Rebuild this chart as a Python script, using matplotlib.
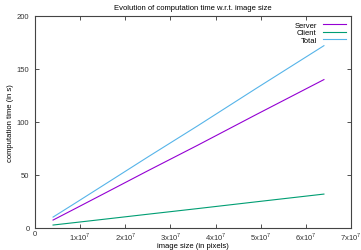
import matplotlib
matplotlib.use('Agg')
import matplotlib.pyplot as plt
from matplotlib.ticker import FuncFormatter

# data
sizes = [4e6, 9e6, 16e6, 25e6, 36e6, 49e6, 64e6]
server = [7.5, 18.5, 34, 54, 78, 107, 140]
client = [2.8, 5.2, 8.6, 13, 18.3, 24.7, 32]
total = [10.3, 23.7, 42.6, 67, 96.3, 131.7, 172]

plt.rcParams['font.family'] = 'Liberation Sans'
plt.rcParams['mathtext.fontset'] = 'custom'
plt.rcParams['mathtext.rm'] = 'Liberation Sans'

fig = plt.figure(figsize=(3.61, 2.51), dpi=100)
ax = fig.add_axes([35/361, 1 - 229/251, 316/361, 212/251])

ax.plot(sizes, server, color='#9400d3', lw=0.8, label='Server')
ax.plot(sizes, client, color='#009e73', lw=0.8, label='Client')
ax.plot(sizes, total, color='#56b4e9', lw=0.8, label='Total')

ax.set_xlim(0, 7e7)
ax.set_ylim(0, 200)
ax.set_xticks([i * 1e7 for i in range(8)])
ax.set_yticks([0, 50, 100, 150, 200])

def fmt(v, pos):
    if v == 0:
        return '0'
    return r'%dx10$^{\mathrm{7}}$' % round(v / 1e7)

ax.xaxis.set_major_formatter(FuncFormatter(fmt))
ax.tick_params(direction='in', length=3, width=0.6, labelsize=5.5,
               top=True, right=True, pad=4, colors='#333333')
ax.tick_params(axis='x', pad=1.5)
for s in ax.spines.values():
    s.set_linewidth(0.8)
    s.set_color('#444444')

ax.set_title('Evolution of computation time w.r.t. image size', fontsize=5.5, pad=5)
ax.set_xlabel('image size (in pixels)', fontsize=5.5, labelpad=0)
ax.set_ylabel('computation time (in s)', fontsize=5.5, labelpad=2)

ax.legend(loc='upper right', frameon=False, fontsize=5.5, markerfirst=False,
          handlelength=3, handletextpad=0.8, labelspacing=0.05,
          borderaxespad=0.3)

fig.savefig('out.png', dpi=100)
